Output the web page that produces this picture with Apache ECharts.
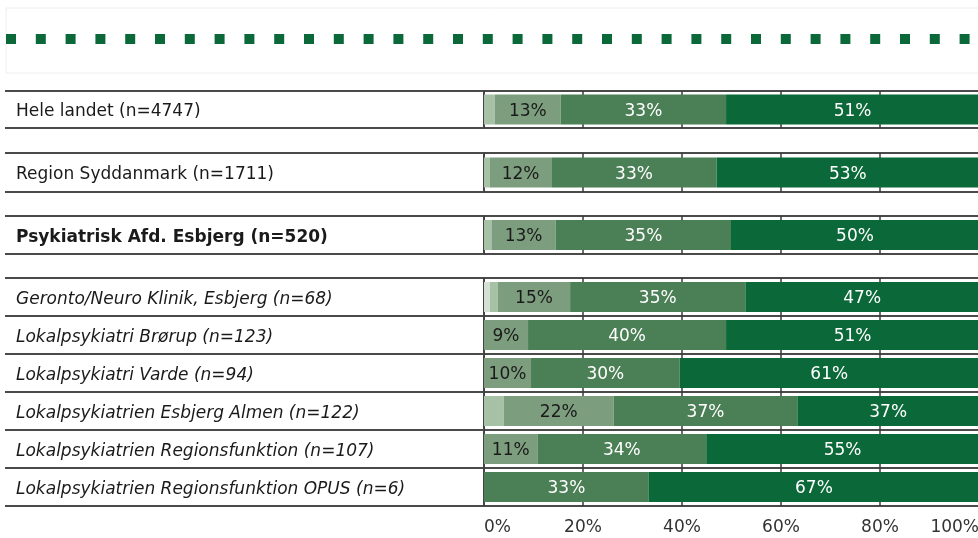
<!DOCTYPE html>
<html>
<head>
<meta charset="utf-8">
<script src="https://cdn.jsdelivr.net/npm/echarts@6/dist/echarts.min.js"></script>
<style>
  html, body { margin: 0; padding: 0; background: #fff; }
  #chart { width: 978px; height: 538px; }
</style>
</head>
<body>
<div id="chart"></div>
<script>
// rækker (top til bund)
var rowNames = [
  'Hele landet (n=4747)',
  'Region Syddanmark (n=1711)',
  'Psykiatrisk Afd. Esbjerg (n=520)',
  'Geronto/Neuro Klinik, Esbjerg (n=68)',
  'Lokalpsykiatri Brørup (n=123)',
  'Lokalpsykiatri Varde (n=94)',
  'Lokalpsykiatrien Esbjerg Almen (n=122)',
  'Lokalpsykiatrien Regionsfunktion (n=107)',
  'Lokalpsykiatrien Regionsfunktion OPUS (n=6)'
];
// tekststil pr. række: n = normal, b = fed, i = kursiv
var rowStyle = ['n', 'n', 'b', 'i', 'i', 'i', 'i', 'i', 'i'];

// andele i procent, en liste pr. svarkategori
var svar1 = [0,   0,   0,    1.2,  0,    0,    0,    0,    0];
var svar2 = [2.2, 1.2, 1.5,  1.6,  0,    0,    4.0,  0,    0];
var svar3 = [13.3, 12.4, 13.0, 14.6, 8.9, 9.5, 22.2, 10.8, 0];
var svar4 = [33.4, 33.4, 35.4, 35.4, 40.0, 30.0, 37.1, 34.1, 33.3];
var svar5 = [51.1, 53.0, 50.1, 47.2, 51.1, 60.5, 36.7, 55.1, 66.7];

var xTicks = [0, 20, 40, 60, 80, 100];

var segData = [svar1, svar2, svar3, svar4, svar5];
var segColors = ['#d3e0d3', '#a7c1a7', '#7d9e7e', '#4b7f55', '#0b6939'];
var segLabelColor = ['#1a1a1a', '#1a1a1a', '#1a1a1a', '#ffffff', '#ffffff'];

// sektioner: hvilke rækker hører til hvilket grid
var sections = [[0], [1], [2], [3, 4, 5, 6, 7, 8]];
var gridTops = [91, 153, 216, 278];
var gridHeights = [37, 39, 38, 228];

var font = 'DejaVu Sans';
var fs = 17;
var lineColor = '#4a4a4a';

var grids = [], xAxes = [], yAxes = [], series = [];

var labelBox = { width: 460, align: 'left', fontFamily: font, fontSize: fs,
  color: '#1a1a1a', padding: [5, 0, 0, 0] };
var rich = {
  n: Object.assign({}, labelBox),
  b: Object.assign({ fontWeight: 'bold' }, labelBox),
  i: Object.assign({ fontStyle: 'italic' }, labelBox)
};

for (var g = 0; g < sections.length; g++) {
  var rows = sections[g];
  var isLast = g === sections.length - 1;
  grids.push({ left: 484, width: 495, top: gridTops[g], height: gridHeights[g],
    containLabel: false, outerBoundsMode: 'none' });

  xAxes.push({
    type: 'value', gridIndex: g, min: xTicks[0], max: xTicks[xTicks.length - 1],
    interval: xTicks[1] - xTicks[0],
    axisLine: { show: false },
    axisTick: { show: false },
    splitLine: { show: true, lineStyle: { color: '#3a3a3a', width: 1.5 } },
    axisLabel: {
      show: isLast, fontFamily: font, fontSize: fs, color: '#333', margin: 13,
      alignMinLabel: 'left', alignMaxLabel: 'right',
      formatter: function (v) { return v + '%'; }
    }
  });

  var cats = [];
  for (var r = 0; r < rows.length; r++) cats.push(rowNames[rows[r]]);

  yAxes.push({
    type: 'category', gridIndex: g, inverse: true, data: cats,
    axisLine: { show: true, lineStyle: { color: '#3a3a3a', width: 1.5 } },
    axisTick: { show: true, length: 479, lineStyle: { color: lineColor, width: 2 } },
    splitLine: { show: true, lineStyle: { color: lineColor, width: 2 } },
    axisLabel: {
      margin: 8,
      rich: rich,
      formatter: function (v) {
        var k = rowNames.indexOf(v);
        return '{' + rowStyle[k] + '|' + v + '}';
      }
    }
  });

  for (var s = 0; s < segData.length; s++) {
    var vals = [];
    for (var r = 0; r < rows.length; r++) vals.push(segData[s][rows[r]]);
    series.push({
      type: 'bar', xAxisIndex: g, yAxisIndex: g, stack: 'sek' + g,
      barWidth: 30, data: vals,
      itemStyle: { color: segColors[s] },
      label: {
        show: true, position: 'inside', offset: [0, 2],
        fontFamily: font, fontSize: fs, color: segLabelColor[s],
        formatter: function (p) { return p.value >= 5 ? Math.round(p.value) + '%' : ''; }
      },
      silent: true
    });
  }
}

// pyntebånd øverst
var deco = [{ type: 'rect', shape: { x: 6, y: 8, width: 990, height: 65 },
  style: { fill: 'none', stroke: '#eeeeee', lineWidth: 1 } }];
for (var i = 0; i < 33; i++) {
  deco.push({ type: 'rect', shape: { x: 6 + i * 29.8, y: 34, width: 10, height: 10 },
    style: { fill: '#0b6939' } });
}

var myChart = echarts.init(document.getElementById('chart'));
var option = {
  animation: false,
  grid: grids,
  xAxis: xAxes,
  yAxis: yAxes,
  series: series,
  graphic: deco
};
option && myChart.setOption(option);
</script>
</body>
</html>
